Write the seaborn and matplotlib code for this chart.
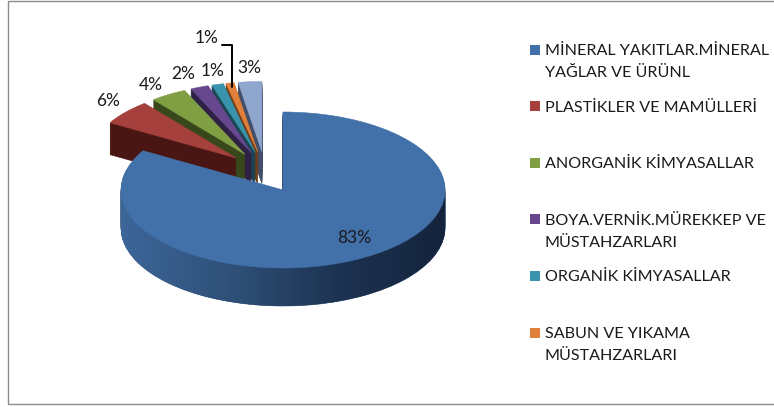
import numpy as np
import matplotlib
matplotlib.use('Agg')
import matplotlib.pyplot as plt
from matplotlib.patches import Rectangle
from matplotlib.path import Path
import seaborn as sns

categories = ['MİNERAL YAKITLAR.MİNERAL\nYAĞLAR VE ÜRÜNL', 'PLASTİKLER VE MAMÜLLERİ',
              'ANORGANİK KİMYASALLAR', 'BOYA.VERNİK.MÜREKKEP VE\nMÜSTAHZARLARI',
              'ORGANİK KİMYASALLAR', 'SABUN VE YIKAMA\nMÜSTAHZARLARI', '']
values = [83.4, 5.8, 4.0, 2.0, 1.3, 0.9, 2.6]
top_colors = ['#4270a8', '#a6403d', '#7f9f42', '#67488f', '#3a93ad', '#e0803a', '#8fa6cf']
side_colors = ['#2b4a72', '#4a1613', '#38481a', '#2f2145', '#1a4654', '#6f3d18', '#414f68']

W, H = 774, 407
RX, RY = 162, 78
DEPTH = 38
k = RX / RY

sns.set_theme(style='white')
plt.rcParams['font.family'] = ['Lato', 'DejaVu Sans']

def py(y):
    return (H - y) * k

fig = plt.figure(figsize=(W / 100, H / 100), dpi=100)
ax = fig.add_axes([0, 0, 1, 1])

def draw_pie(cx, cy, r, expl, colors, show, z):
    wedges, _ = ax.pie(values, colors=colors, startangle=90, counterclock=False, radius=r,
                       center=(cx, py(cy)), explode=[expl] * len(values),
                       wedgeprops=dict(linewidth=0.4, zorder=z))
    for i, w in enumerate(wedges):
        if i in show:
            w.set_edgecolor(colors[i])
        else:
            w.remove()
    return [wedges[i] for i in show]

# exploded group behind, then the big slice
group = [1, 2, 3, 4, 5, 6]
for d in range(32, 0, -1):
    draw_pie(265, 170 + d, 146, 38, side_colors, group, 2)
draw_pie(265, 170, 146, 38, top_colors, group, 2)

layers = []
for d in range(DEPTH, 0, -1):
    layers += draw_pie(283, 190 + d, RX, 0, side_colors, [0], 3)
draw_pie(283, 190, RX, 0, top_colors, [0], 5)

ax.set_aspect('auto')
ax.set_xlim(0, W)
ax.set_ylim(0, H * k)

# gradient on the side of the big slice
side_path = Path.make_compound_path(*[w.get_path().transformed(w.get_patch_transform()) for w in layers])
cmap = sns.blend_palette(['#3d6699', '#2f5179', '#1d3352', '#14233c'], as_cmap=True)
img = ax.imshow(np.linspace(0, 1, 256).reshape(1, -1), cmap=cmap, aspect='auto', zorder=4,
                extent=(121, 446, py(320), py(130)))
img.set_clip_path(side_path, ax.transData)
ax.set_xlim(0, W)
ax.set_ylim(0, H * k)

# percent labels
label_xy = [(354, 238), (108, 101), (151, 85), (183, 74), (213, 71), (207, 38), (249, 68)]
for v, (x, y) in zip(values, label_xy):
    ax.text(x, py(y), f'{round(v)}%', ha='center', va='center', fontsize=12.5, color='#1a1a1a', zorder=7)

# leader line for the orange slice
ax.plot([222, 232, 232], [py(45), py(45), py(87)], color='black', lw=1.4, zorder=6)

# legend, evenly spaced like the original
for i, (cat, col) in enumerate(zip(categories[:6], top_colors)):
    y = 50 + i * 56.6
    ax.add_patch(Rectangle((530, py(y + 4.5)), 10, 10 * k, facecolor=col, edgecolor='none', zorder=6))
    for j, line in enumerate(cat.split('\n')):
        ax.text(545, py(y + 1 + j * 22), line, ha='left', va='center', fontsize=11.6, color='#1a1a1a', zorder=7)

# chart frame
ax.add_patch(Rectangle((8, py(404)), 780, 403 * k, facecolor='none', edgecolor='#8c8c8c', lw=1, zorder=8, clip_on=False))

fig.savefig('out.png', dpi=100, facecolor='white')
